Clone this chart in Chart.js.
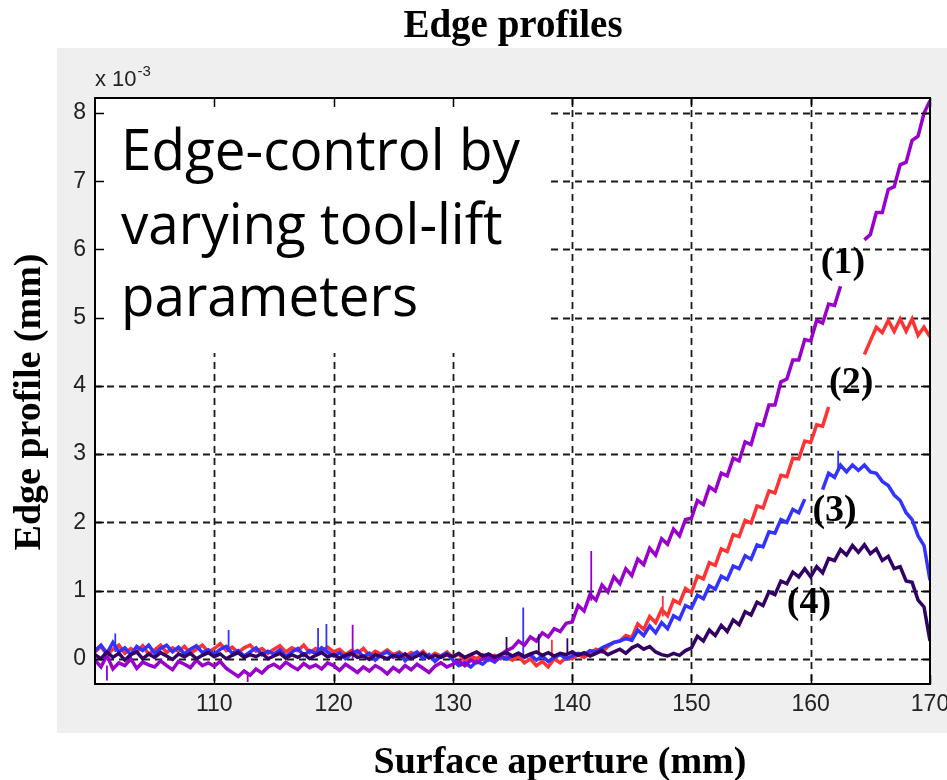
<!DOCTYPE html>
<html>
<head>
<meta charset="utf-8">
<script src="https://cdn.jsdelivr.net/npm/chart.js@4.4.1/dist/chart.umd.min.js"></script>
<style>
  html, body { margin: 0; padding: 0; background: #fff; }
  canvas { display: block; }
</style>
</head>
<body>
<canvas id="edgeChart" width="947" height="780"></canvas>
<script>
// surface aperture (mm), 0.5 mm steps
const aperture = [
  100, 100.5, 101, 101.5, 102, 102.5, 103, 103.5, 104, 104.5,
  105, 105.5, 106, 106.5, 107, 107.5, 108, 108.5, 109, 109.5,
  110, 110.5, 111, 111.5, 112, 112.5, 113, 113.5, 114, 114.5,
  115, 115.5, 116, 116.5, 117, 117.5, 118, 118.5, 119, 119.5,
  120, 120.5, 121, 121.5, 122, 122.5, 123, 123.5, 124, 124.5,
  125, 125.5, 126, 126.5, 127, 127.5, 128, 128.5, 129, 129.5,
  130, 130.5, 131, 131.5, 132, 132.5, 133, 133.5, 134, 134.5,
  135, 135.5, 136, 136.5, 137, 137.5, 138, 138.5, 139, 139.5,
  140, 140.5, 141, 141.5, 142, 142.5, 143, 143.5, 144, 144.5,
  145, 145.5, 146, 146.5, 147, 147.5, 148, 148.5, 149, 149.5,
  150, 150.5, 151, 151.5, 152, 152.5, 153, 153.5, 154, 154.5,
  155, 155.5, 156, 156.5, 157, 157.5, 158, 158.5, 159, 159.5,
  160, 160.5, 161, 161.5, 162, 162.5, 163, 163.5, 164, 164.5,
  165, 165.5, 166, 166.5, 167, 167.5, 168, 168.5, 169, 169.5,
  170
];

// edge profile, x 10^-3 mm
const profile1 = [
  -0.02, -0.12, 0.05, -0.15, -0.06, -0.1, 0.0, -0.14, -0.05, -0.09,
  -0.12, -0.03, -0.1, -0.16, -0.04, -0.08, -0.13, -0.02, -0.1, -0.06,
  -0.11, -0.04, -0.14, -0.2, -0.26, -0.18, -0.24, -0.15, -0.21, -0.12,
  -0.08, -0.14, -0.05, -0.11, -0.16, -0.07, -0.13, -0.09, -0.15, -0.06,
  -0.1, -0.17, -0.08, -0.14, -0.2, -0.12, -0.18, -0.1, -0.15, -0.22,
  -0.13, -0.19, -0.1, -0.16, -0.08, -0.14, -0.2, -0.11, -0.06, -0.12,
  -0.08, -0.03, -0.1, -0.02, -0.06, 0.0, 0.04, -0.02, 0.06, 0.12,
  0.16, 0.26, 0.2, 0.32, 0.26, 0.38, 0.32, 0.44, 0.4, 0.52,
  0.54, 0.78, 0.7, 0.94, 0.86, 1.08, 0.98, 1.2, 1.1, 1.32,
  1.22, 1.46, 1.38, 1.62, 1.52, 1.76, 1.68, 1.9, 1.8, 2.04,
  2.06, 2.32, 2.26, 2.52, 2.46, 2.72, 2.68, 2.94, 2.9, 3.18,
  3.14, 3.44, 3.42, 3.72, 3.72, 4.06, 4.1, 4.38, 4.38, 4.68,
  4.66, 4.96, 4.92, 5.2, 5.18, 5.46, null, null, null, 6.14,
  6.22, 6.54, 6.54, 6.88, 6.92, 7.24, 7.28, 7.6, 7.66, 8.0,
  8.18
];
const profile2 = [
  0.1, 0.18, 0.06, 0.14, 0.2, 0.08, 0.15, 0.1, 0.19, 0.07,
  0.13, 0.2, 0.09, 0.16, 0.11, 0.18, 0.08, 0.14, 0.2, 0.1,
  0.15, 0.22, 0.12, 0.17, 0.09, 0.16, 0.2, 0.11, 0.15, 0.08,
  0.14, 0.19, 0.1, 0.16, 0.12, 0.2, 0.09, 0.15, 0.11, 0.17,
  0.1, 0.14, 0.06, 0.12, 0.08, 0.15, 0.05, 0.11, 0.07, 0.13,
  0.06, 0.1, 0.03, 0.09, 0.05, 0.11, 0.02, 0.08, 0.04, 0.1,
  0.02, 0.07, -0.03, 0.04, 0.0, 0.06, -0.02, 0.05, 0.0, 0.03,
  -0.02, 0.04, -0.06, 0.0, -0.1, -0.04, -0.12, 0.0, -0.06, 0.02,
  0.0, 0.06, 0.02, 0.08, 0.14, 0.1, 0.18, 0.24, 0.26, 0.34,
  0.31, 0.51, 0.43, 0.62, 0.53, 0.72, 0.63, 0.86, 0.81, 1.03,
  0.97, 1.21, 1.17, 1.41, 1.37, 1.61, 1.57, 1.82, 1.79, 2.03,
  1.99, 2.24, 2.21, 2.46, 2.43, 2.69, 2.67, 2.94, 2.93, 3.19,
  3.17, 3.43, 3.41, 3.69, null, null, null, null, null, 4.46,
  4.66, 4.86, 4.78, 4.96, 4.8, 4.98, 4.8, 4.98, 4.74, 4.86,
  4.72
];
const profile3 = [
  0.12, 0.2, 0.08, 0.24, 0.1, 0.16, 0.06, 0.18, 0.12, 0.2,
  0.08, 0.15, 0.2, 0.1, 0.17, 0.07, 0.14, 0.19, 0.09, 0.13,
  0.06, 0.14, 0.18, 0.08, 0.12, 0.04, 0.1, 0.16, 0.06, 0.11,
  0.07, 0.13, 0.03, 0.1, 0.15, 0.05, 0.12, 0.08, 0.16, 0.1,
  0.04, 0.09, 0.0, 0.07, 0.12, 0.03, 0.08, -0.02, 0.06, 0.1,
  0.02, 0.08, -0.03, 0.05, 0.1, 0.0, 0.06, -0.04, 0.04, 0.08,
  -0.02, -0.1, -0.06, -0.12, -0.04, -0.08, 0.0, -0.05, 0.03, 0.0,
  0.04, 0.08, 0.02, 0.06, -0.02, 0.04, -0.04, 0.02, 0.06, 0.0,
  0.04, 0.08, 0.06, 0.12, 0.1, 0.16, 0.2, 0.24, 0.26, 0.3,
  0.27, 0.42, 0.34, 0.48, 0.38, 0.53, 0.44, 0.63, 0.58, 0.78,
  0.74, 0.93, 0.88, 1.07, 1.02, 1.21, 1.16, 1.36, 1.32, 1.51,
  1.46, 1.67, 1.64, 1.86, 1.84, 2.04, 2.0, 2.19, 2.14, 2.34,
  null, null, 2.48, 2.72, 2.66, 2.84, 2.74, 2.84, 2.76, 2.84,
  2.74, 2.72, 2.6, 2.54, 2.4, 2.32, 2.14, 2.04, 1.8, 1.66,
  1.15
];
const profile4 = [
  0.06, 0.0, 0.1, 0.02, 0.08, -0.02, 0.06, 0.1, 0.0, 0.07,
  0.02, 0.09, 0.04, -0.01, 0.07, 0.03, 0.08, 0.0, 0.05, 0.09,
  0.03, 0.07, 0.0, 0.05, 0.09, 0.02, 0.06, 0.03, 0.08, 0.0,
  0.04, 0.08, 0.01, 0.06, 0.02, 0.07, 0.0, 0.05, 0.09, 0.03,
  0.06, 0.01, 0.05, 0.08, 0.02, 0.04, -0.01, 0.06, 0.03, 0.0,
  0.05, 0.02, 0.07, 0.0, 0.04, 0.08, 0.01, 0.05, 0.02, 0.06,
  0.03, 0.08, 0.02, 0.06, 0.1, 0.04, 0.07, 0.02, 0.06, 0.09,
  0.04, 0.08, 0.03, 0.07, 0.1, 0.05, 0.09, 0.04, 0.08, 0.06,
  0.1, 0.05, 0.09, 0.04, 0.08, 0.12, 0.06, 0.1, 0.14, 0.08,
  0.16, 0.2, 0.14, 0.18, 0.1, 0.06, 0.04, 0.08, 0.05, 0.12,
  0.16, 0.33, 0.26, 0.42, 0.34, 0.49, 0.4, 0.57, 0.5, 0.69,
  0.64, 0.83, 0.78, 0.98, 0.94, 1.14, 1.1, 1.27, 1.2, 1.32,
  1.2, 1.35, 1.26, 1.47, 1.44, 1.6, 1.52, 1.66, 1.56, 1.67,
  1.54, 1.61, 1.44, 1.5, 1.32, 1.35, 1.14, 1.12, 0.86, 0.76,
  0.26
];

// single-sample spikes: [aperture, from, to]
const spikes1 = [[101, -0.1, -0.32], [112.8, -0.2, -0.34], [121.6, 0.0, 0.5], [141.6, 0.85, 1.58]];
const spikes2 = [[138.3, 0.0, 0.28], [147.6, 0.62, 0.92]];
const spikes3 = [[101.7, 0.1, 0.37], [111.2, 0.1, 0.42], [118.7, 0.1, 0.45], [119.4, 0.1, 0.51], [135.9, 0.05, 0.75], [162.3, 2.74, 3.05]];
const spikes4 = [[134.5, 0.05, 0.32], [137.2, 0.05, 0.36], [139.6, 0.05, 0.3]];

const seriesNames = ['(1)', '(2)', '(3)', '(4)'];
const seriesColors = ['#9900cc', '#ff3333', '#3333ff', '#330066'];
const labelX = [162.7, 163.4, 162.0, 159.85];
const labelY = [5.8, 4.04, 2.17, 0.82];

const xTicks = [110, 120, 130, 140, 150, 160, 170];
const yTicks = [0, 1, 2, 3, 4, 5, 6, 7, 8];
const xMin = 100, xMax = 170;
const yMin = -0.37, yMax = 8.22;

const noteLines = ['Edge-control by', 'varying tool-lift', 'parameters'];

const toPoints = (ys) => aperture.map((x, i) => ({ x: x, y: ys[i] }));
const toSpikes = (list) => list.flatMap(([x, a, b]) => [{ x: x, y: a }, { x: x, y: b }, { x: x, y: null }]);

const profiles = [profile1, profile2, profile3, profile4];
const spikeSets = [spikes1, spikes2, spikes3, spikes4];
const drawOrder = [1, 3, 2, 0]; // dark curve on top, red at the bottom

const datasets = [];
profiles.forEach((p, i) => {
  datasets.push({
    label: seriesNames[i],
    data: toPoints(p),
    borderColor: seriesColors[i],
    borderWidth: 3.5,
    pointRadius: 0,
    tension: 0,
    spanGaps: false,
    order: drawOrder[i],
  });
  datasets.push({
    label: seriesNames[i] + ' spikes',
    data: toSpikes(spikeSets[i]),
    borderColor: seriesColors[i],
    borderWidth: 1.8,
    pointRadius: 0,
    spanGaps: false,
    order: drawOrder[i],
  });
});

const SERIF = '"Liberation Serif", "Times New Roman", serif';
const SANS = '"Liberation Sans", Arial, sans-serif';

const decor = {
  id: 'decor',
  beforeDraw(chart) {
    const { ctx, chartArea: a } = chart;
    ctx.save();
    ctx.fillStyle = '#ffffff';
    ctx.fillRect(0, 0, chart.width, chart.height);
    ctx.fillStyle = '#efefef';
    ctx.fillRect(57, 48, 890, 685);
    ctx.fillStyle = '#ffffff';
    ctx.fillRect(a.left, a.top, a.right - a.left, a.bottom - a.top);
    ctx.restore();
  },
  beforeDatasetsDraw(chart) {
    const { ctx, chartArea: a, scales: { x, y } } = chart;
    ctx.save();
    ctx.strokeStyle = '#1a1a1a';
    ctx.lineWidth = 1.8;
    ctx.setLineDash([7, 5]);
    yTicks.forEach(v => {
      const py = Math.round(y.getPixelForValue(v)) + 0.5;
      ctx.beginPath(); ctx.moveTo(a.left, py); ctx.lineTo(a.right, py); ctx.stroke();
    });
    xTicks.forEach(v => {
      if (v === xMax) return;
      const px = Math.round(x.getPixelForValue(v)) + 0.5;
      ctx.beginPath(); ctx.moveTo(px, a.top); ctx.lineTo(px, a.bottom); ctx.stroke();
    });
    ctx.setLineDash([]);
    // text box in the upper left corner hides the grid
    ctx.fillStyle = '#ffffff';
    ctx.fillRect(a.left + 1, a.top + 1, 455, 254);
    ctx.restore();
  },
  afterDatasetsDraw(chart) {
    const { ctx, chartArea: a, scales: { x, y } } = chart;
    ctx.save();
    // axes box and inward ticks
    ctx.strokeStyle = '#000';
    ctx.lineWidth = 1.5;
    ctx.beginPath();
    xTicks.forEach(v => {
      const px = Math.round(x.getPixelForValue(v)) + 0.5;
      ctx.moveTo(px, a.bottom); ctx.lineTo(px, a.bottom - 9);
      ctx.moveTo(px, a.top); ctx.lineTo(px, a.top + 9);
    });
    yTicks.forEach(v => {
      const py = Math.round(y.getPixelForValue(v)) + 0.5;
      ctx.moveTo(a.left, py); ctx.lineTo(a.left + 9, py);
      ctx.moveTo(a.right, py); ctx.lineTo(a.right - 9, py);
    });
    ctx.stroke();
    ctx.lineWidth = 2;
    ctx.strokeRect(a.left, a.top, a.right - a.left, a.bottom - a.top);

    // curve labels
    ctx.fillStyle = '#000';
    ctx.font = 'bold 38px ' + SERIF;
    ctx.textAlign = 'center';
    ctx.textBaseline = 'middle';
    seriesNames.forEach((t, i) => {
      ctx.fillText(t, x.getPixelForValue(labelX[i]), y.getPixelForValue(labelY[i]));
    });

    // annotation text
    ctx.textAlign = 'left';
    ctx.textBaseline = 'alphabetic';
    ctx.font = '52px "Open Sans", "Noto Sans", sans-serif';
    const w = ctx.measureText(noteLines[0]).width;
    const size = 52 * 399 / w;
    ctx.font = size.toFixed(1) + 'px "Open Sans", "Noto Sans", sans-serif';
    const cap = ctx.measureText('E').actualBoundingBoxAscent;
    const sy = 40 / cap;
    const baselines = [170, 244, 316];
    noteLines.forEach((t, i) => {
      ctx.save();
      ctx.translate(121, baselines[i]);
      ctx.scale(1, sy);
      ctx.fillText(t, 0, 0);
      ctx.restore();
    });

    // exponent marker
    ctx.fillStyle = '#222';
    ctx.font = '22px ' + SANS;
    ctx.fillText('x 10', 95, 86);
    const baseW = ctx.measureText('x 10').width;
    ctx.font = '15px ' + SANS;
    ctx.fillText('-3', 96 + baseW, 76);

    // titles
    ctx.fillStyle = '#000';
    ctx.textAlign = 'center';
    ctx.font = 'bold 39px ' + SERIF;
    ctx.fillText('Edge profiles', 513, 37);
    ctx.font = 'bold 38px ' + SERIF;
    ctx.fillText('Surface aperture (mm)', 560, 773);
    ctx.save();
    ctx.translate(40, 402);
    ctx.rotate(-Math.PI / 2);
    ctx.fillText('Edge profile (mm)', 0, 0);
    ctx.restore();
    ctx.restore();
  }
};

new Chart(document.getElementById('edgeChart'), {
  type: 'line',
  data: { datasets: datasets },
  options: {
    responsive: false,
    animation: false,
    devicePixelRatio: 1,
    layout: { padding: { left: 0, top: 98, right: 17, bottom: 0 } },
    plugins: {
      legend: { display: false },
      tooltip: { enabled: false },
      title: { display: false },
    },
    scales: {
      x: {
        type: 'linear',
        min: xMin,
        max: xMax,
        grid: { display: false, drawTicks: false },
        border: { display: false },
        afterBuildTicks: (scale) => { scale.ticks = xTicks.map(v => ({ value: v })); },
        afterFit: (scale) => { scale.height = 96; scale.paddingLeft = 0; scale.paddingRight = 0; },
        ticks: {
          color: '#222',
          font: { family: SANS, size: 23 },
          padding: 7,
          maxRotation: 0,
          autoSkip: false,
        },
      },
      y: {
        type: 'linear',
        min: yMin,
        max: yMax,
        grid: { display: false, drawTicks: false },
        border: { display: false },
        afterBuildTicks: (scale) => { scale.ticks = yTicks.map(v => ({ value: v })); },
        afterFit: (scale) => { scale.width = 95; scale.paddingTop = 0; scale.paddingBottom = 0; },
        ticks: {
          color: '#222',
          font: { family: SANS, size: 23 },
          padding: 9,
        },
      },
    },
  },
  plugins: [decor],
});
</script>
</body>
</html>
